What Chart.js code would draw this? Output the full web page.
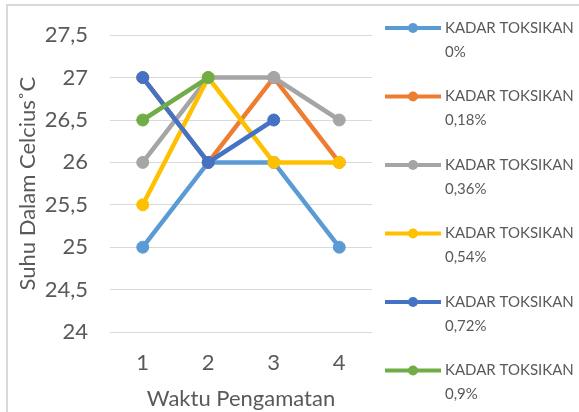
<!DOCTYPE html>
<html>
<head>
<meta charset="utf-8">
<script src="https://cdn.jsdelivr.net/npm/chart.js@4.4.1/dist/chart.umd.min.js"></script>
<style>
  html, body { margin: 0; padding: 0; background: #ffffff; }
  #wrap { width: 579px; height: 412px; position: relative; }
</style>
</head>
<body>
<div id="wrap"><canvas id="c" width="579" height="412"></canvas></div>
<script>
const categories = ['1', '2', '3', '4'];
const seriesNames = [
  ['KADAR TOKSIKAN', '0%'],
  ['KADAR TOKSIKAN', '0,18%'],
  ['KADAR TOKSIKAN', '0,36%'],
  ['KADAR TOKSIKAN', '0,54%'],
  ['KADAR TOKSIKAN', '0,72%'],
  ['KADAR TOKSIKAN', '0,9%']
];
const kadar0 = [25, 26, 26, 25];
const kadar018 = [27, 26, 27, 26];
const kadar036 = [26, 27, 27, 26.5];
const kadar054 = [25.5, 27, 26, 26];
const kadar072 = [27, 26, 26.5, null];
const kadar09 = [26.5, 27, null, null];
const seriesValues = [kadar0, kadar018, kadar036, kadar054, kadar072, kadar09];
const seriesColors = ['#5B9BD5', '#ED7D31', '#A5A5A5', '#FFC000', '#4472C4', '#70AD47'];
const yMin = 24, yMax = 27.5, yStep = 0.5;
const xTitle = 'Waktu Pengamatan';
const yTitle = 'Suhu Dalam Celcius˚C';

const FONT = 'Lato, "Open Sans", sans-serif';
const TEXT = '#595959';

const datasets = seriesValues.map((vals, i) => ({
  label: seriesNames[i].join(' '),
  data: vals,
  borderColor: seriesColors[i],
  backgroundColor: seriesColors[i],
  pointBackgroundColor: seriesColors[i],
  pointBorderColor: seriesColors[i],
  borderWidth: 4.5,
  pointRadius: 6,
  pointBorderWidth: 1,
  pointHoverRadius: 6,
  tension: 0,
  spanGaps: false,
  order: seriesValues.length - i
}));

const framePlugin = {
  id: 'frame',
  beforeDraw(chart) {
    const ctx = chart.ctx;
    ctx.save();
    ctx.strokeStyle = '#d9d9d9';
    ctx.lineWidth = 2;
    ctx.beginPath();
    ctx.moveTo(7, 420);
    ctx.lineTo(7, 5);
    ctx.lineTo(590, 5);
    ctx.stroke();
    ctx.restore();
  }
};

const sideLegend = {
  id: 'sideLegend',
  afterDraw(chart) {
    const ctx = chart.ctx;
    const x0 = 385, x1 = 441, tx = 445;
    const top = 28, gap = 68.5, lh = 24;
    ctx.save();
    chart.data.datasets.forEach((ds, i) => {
      const y = top + i * gap;
      ctx.strokeStyle = ds.borderColor;
      ctx.lineWidth = 4;
      ctx.beginPath();
      ctx.moveTo(x0, y);
      ctx.lineTo(x1, y);
      ctx.stroke();
      ctx.fillStyle = ds.borderColor;
      ctx.beginPath();
      ctx.arc((x0 + x1) / 2, y, 5, 0, Math.PI * 2);
      ctx.fill();
      ctx.fillStyle = TEXT;
      ctx.font = '15px ' + FONT;
      ctx.textAlign = 'left';
      ctx.textBaseline = 'middle';
      seriesNames[i].forEach((line, k) => {
        ctx.fillText(line, tx, y + k * lh);
      });
    });
    ctx.restore();
  }
};

new Chart(document.getElementById('c'), {
  type: 'line',
  data: { labels: categories, datasets },
  options: {
    responsive: false,
    animation: false,
    devicePixelRatio: 1,
    layout: { padding: { left: 0, top: 35, right: 207, bottom: 0 } },
    plugins: {
      legend: { display: false },
      tooltip: { enabled: false }
    },
    scales: {
      x: {
        offset: true,
        grid: { display: false, drawTicks: false },
        border: { display: false },
        ticks: { color: TEXT, font: { family: FONT, size: 22 }, padding: 18 },
        title: { display: true, text: xTitle, color: TEXT, font: { family: FONT, size: 22 }, padding: { top: 0, bottom: 0 } },
        afterFit(s) { s.height = 80; }
      },
      y: {
        min: yMin, max: yMax,
        grid: { color: '#d9d9d9', lineWidth: 1, drawTicks: false },
        border: { display: false },
        ticks: {
          stepSize: yStep, color: TEXT, font: { family: FONT, size: 22 }, padding: 22,
          callback: v => String(v).replace('.', ',')
        },
        title: { display: true, text: yTitle, color: TEXT, font: { family: FONT, size: 22 }, padding: { top: 15, bottom: 0 } },
        afterFit(s) { s.width = 110; }
      }
    }
  },
  plugins: [framePlugin, sideLegend]
});
</script>
</body>
</html>
